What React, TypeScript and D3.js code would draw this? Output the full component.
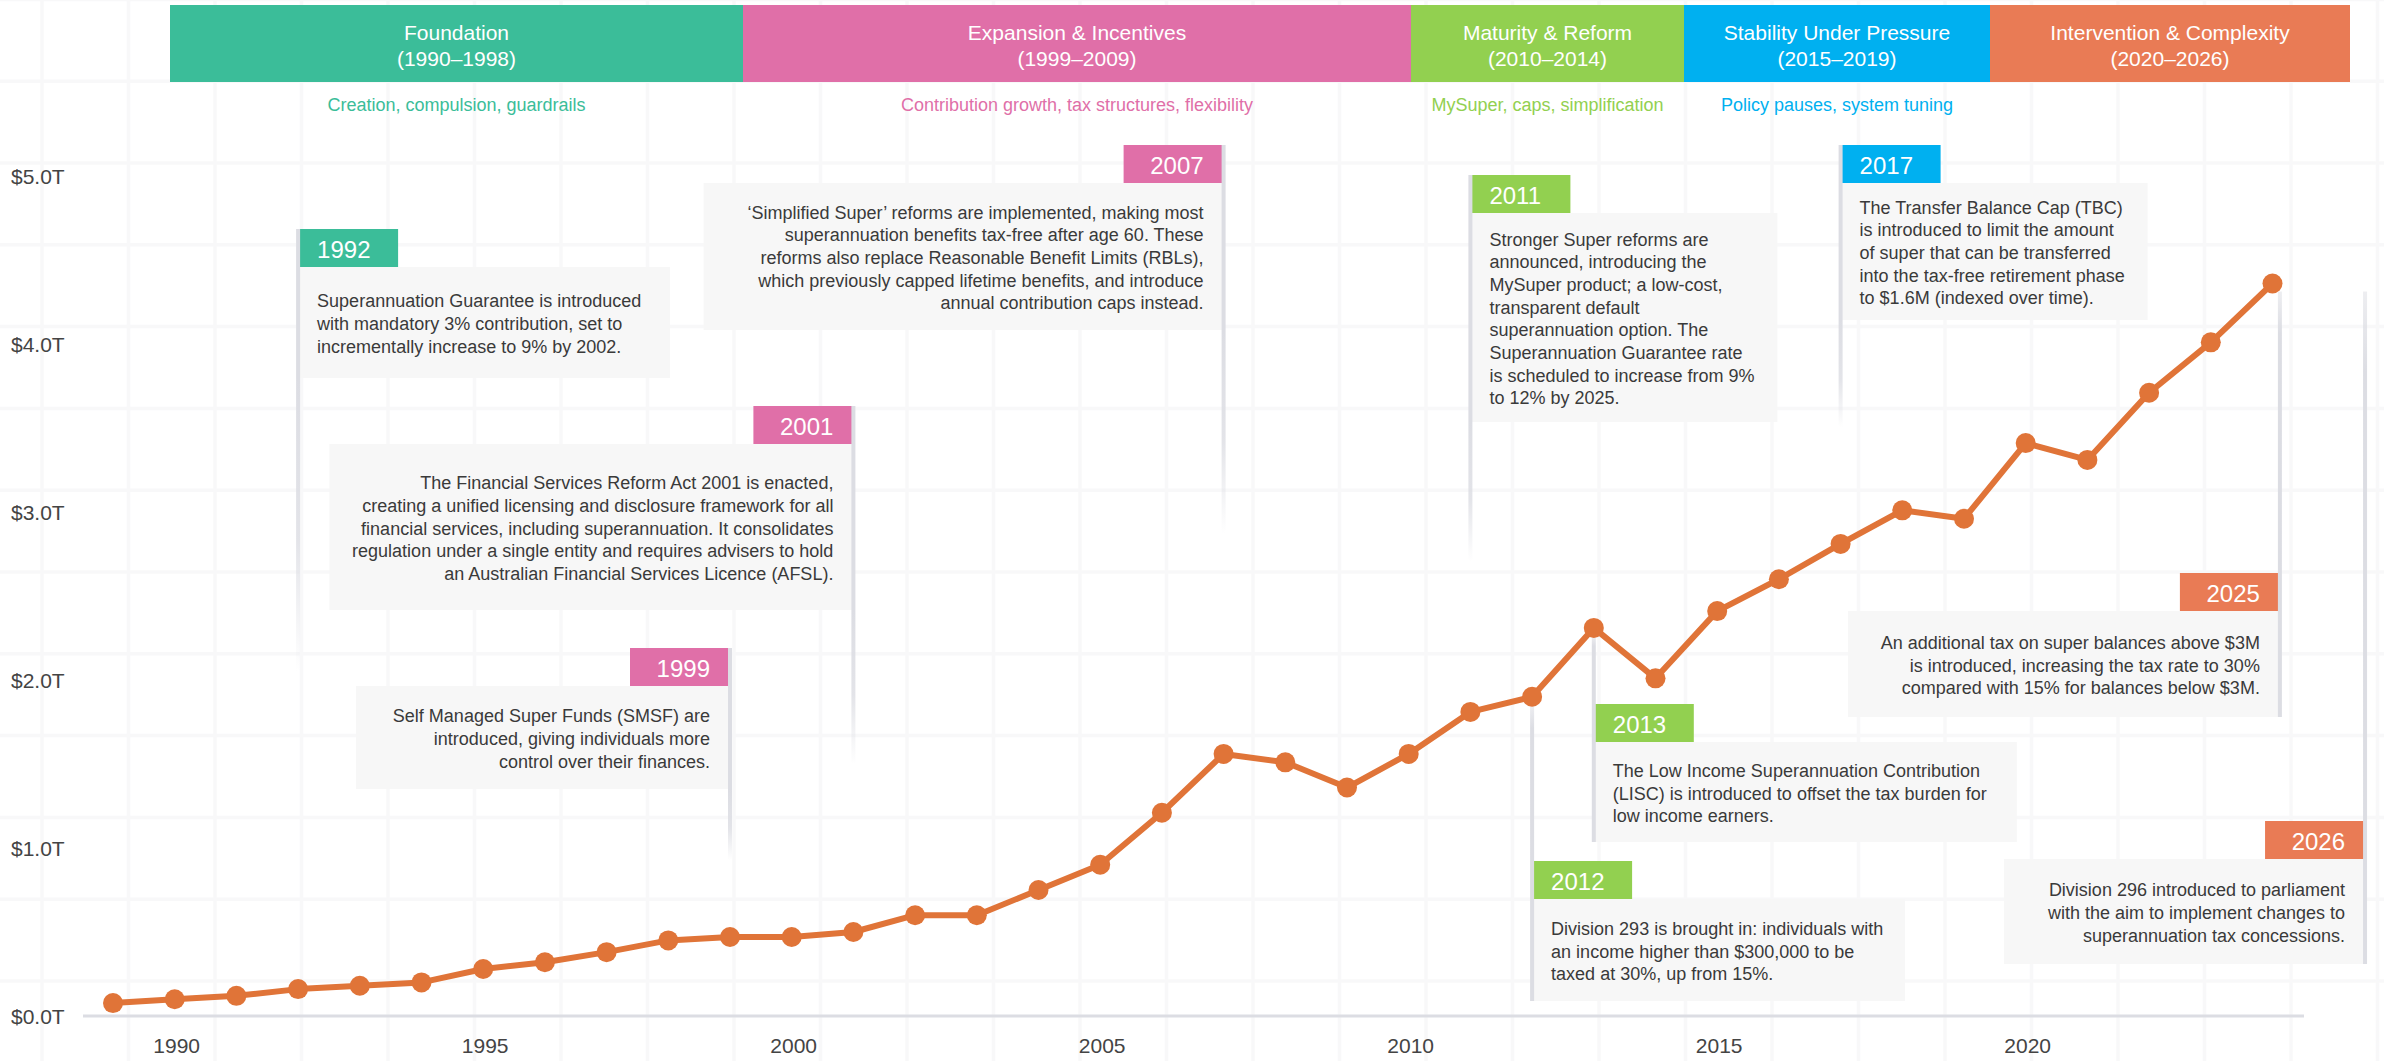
import React from 'react';
import * as d3 from 'd3';

// superannuation assets, $ trillions
const YEARS = [
  1989, 1990, 1991, 1992, 1993, 1994, 1995, 1996, 1997, 1998, 1999, 2000,
  2001, 2002, 2003, 2004, 2005, 2006, 2007, 2008, 2009, 2010, 2011, 2012,
  2013, 2014, 2015, 2016, 2017, 2018, 2019, 2020, 2021, 2022, 2023, 2024,
];
const ASSETS = [
  0.077, 0.1, 0.12, 0.16, 0.18, 0.2, 0.28, 0.32, 0.38, 0.45, 0.47, 0.47,
  0.5, 0.6, 0.6, 0.75, 0.9, 1.21, 1.56, 1.51, 1.36, 1.56, 1.81, 1.9,
  2.31, 2.01, 2.41, 2.6, 2.81, 3.01, 2.96, 3.41, 3.31, 3.71, 4.01, 4.36,
];
const Y_TICKS = [0, 1, 2, 3, 4, 5];
const X_TICKS = [1990, 1995, 2000, 2005, 2010, 2015, 2020];

const PHASE_NAMES = [
  'Foundation',
  'Expansion & Incentives',
  'Maturity & Reform',
  'Stability Under Pressure',
  'Intervention & Complexity',
];
const PHASE_SPANS = ['1990–1998', '1999–2009', '2010–2014', '2015–2019', '2020–2026'];
const PHASE_THEMES = [
  'Creation, compulsion, guardrails',
  'Contribution growth, tax structures, flexibility',
  'MySuper, caps, simplification',
  'Policy pauses, system tuning',
  '',
];
const PHASE_STARTS = [1990, 1999, 2010, 2015, 2020, 2027];

const EVENT_YEARS = [1992, 1999, 2001, 2007, 2011, 2012, 2013, 2017, 2025, 2026];
const EVENT_PHASE = [0, 1, 1, 1, 2, 2, 2, 3, 4, 4];
const EVENT_TEXT = [
  ['Superannuation Guarantee is introduced', 'with mandatory 3% contribution, set to', 'incrementally increase to 9% by 2002.'],
  ['Self Managed Super Funds (SMSF) are', 'introduced, giving individuals more', 'control over their finances.'],
  [
    'The Financial Services Reform Act 2001 is enacted,',
    'creating a unified licensing and disclosure framework for all',
    'financial services, including superannuation. It consolidates',
    'regulation under a single entity and requires advisers to hold',
    'an Australian Financial Services Licence (AFSL).',
  ],
  [
    '‘Simplified Super’ reforms are implemented, making most',
    'superannuation benefits tax-free after age 60. These',
    'reforms also replace Reasonable Benefit Limits (RBLs),',
    'which previously capped lifetime benefits, and introduce',
    'annual contribution caps instead.',
  ],
  [
    'Stronger Super reforms are',
    'announced, introducing the',
    'MySuper product; a low-cost,',
    'transparent default',
    'superannuation option. The',
    'Superannuation Guarantee rate',
    'is scheduled to increase from 9%',
    'to 12% by 2025.',
  ],
  ['Division 293 is brought in: individuals with', 'an income higher than $300,000 to be', 'taxed at 30%, up from 15%.'],
  ['The Low Income Superannuation Contribution', '(LISC) is introduced to offset the tax burden for', 'low income earners.'],
  [
    'The Transfer Balance Cap (TBC)',
    'is introduced to limit the amount',
    'of super that can be transferred',
    'into the tax-free retirement phase',
    'to $1.6M (indexed over time).',
  ],
  ['An additional tax on super balances above $3M', 'is introduced, increasing the tax rate to 30%', 'compared with 15% for balances below $3M.'],
  ['Division 296 introduced to parliament', 'with the aim to implement changes to', 'superannuation tax concessions.'],
];

// layout of the callouts (same order as EVENT_YEARS)
const CALLOUT = [
  { side: 'left', at: 1992, tagTop: 229, boxW: 372, boxH: 111 },
  { side: 'right', at: 1999, tagTop: 648, boxW: 374, boxH: 103 },
  { side: 'right', at: 2001, tagTop: 406, boxW: 524, boxH: 166 },
  { side: 'right', at: 2007, tagTop: 145, boxW: 520, boxH: 147 },
  { side: 'left', at: 2011, tagTop: 175, boxW: 307, boxH: 209 },
  { side: 'left', at: 2012, tagTop: 861, boxW: 373, boxH: 102 },
  { side: 'left', at: 2013, tagTop: 704, boxW: 423, boxH: 100 },
  { side: 'left', at: 2017, tagTop: 145, boxW: 307, boxH: 137 },
  { side: 'right', at: 2024.12, tagTop: 573, boxW: 432, boxH: 106 },
  { side: 'right', at: 2025.5, tagTop: 821, boxW: 361, boxH: 105 },
];

const PHASE_COLORS = ['#3bbd99', '#e06fa8', '#92d050', '#00b0f0', '#e97b55'];
const LINE_COLOR = '#e07438';
const LEAD_COLOR = '#dcdde3';
const FONT = "'Liberation Sans', Arial, Helvetica, sans-serif";

const W = 2384;
const H = 1061;

export default function App() {
  const x = d3.scaleLinear().domain([1989, 2024]).range([113, 2272.5]);
  const y = d3.scaleLinear().domain([0, 5]).range([1016, 176]);
  // header bands are laid out wider than the data scale
  const xBand = d3.scaleLinear().domain(PHASE_STARTS).range([170, 743, 1411, 1684, 1990, 2350]);

  const points = YEARS.map((yr, i) => ({ yr, v: ASSETS[i] }));
  const line = d3.line<{ yr: number; v: number }>().x((d) => x(d.yr)).y((d) => y(d.v));
  const valueAt = d3.scaleLinear().domain(YEARS).range(ASSETS).clamp(true);

  const gridX = d3.range(42, W, 86.5);
  const gridY = d3.range(-0.6, H, 81.8);

  const TAG_H = 38;
  const LH = 22.7;

  // leader segment outside the callout box
  const leads = EVENT_YEARS.map((yr, i) => {
    const c = CALLOUT[i];
    const yData = y(valueAt(c.at));
    const boxBottom = c.tagTop + TAG_H + c.boxH;
    const above = c.tagTop < yData;
    if (above) {
      return { yr, x: x(c.at), y1: boxBottom, y2: boxBottom + (yData - boxBottom) * 0.48, above };
    }
    return { yr, x: x(c.at), y1: c.tagTop, y2: yData + 8, above };
  });

  return (
    <svg width={W} height={H} style={{ position: 'absolute', left: 0, top: 0, background: '#fff' }} fontFamily={FONT}>
      <defs>
        {leads.map((l) => (
          <linearGradient key={l.yr} id={`lead-${l.yr}`} gradientUnits="userSpaceOnUse" x1={0} x2={0} y1={l.y1} y2={l.y2}>
            <stop offset="0" stopColor={LEAD_COLOR} stopOpacity={1} />
            <stop offset={l.above ? '0.55' : '0.85'} stopColor={LEAD_COLOR} stopOpacity={l.above ? 0.8 : 1} />
            <stop offset="1" stopColor={LEAD_COLOR} stopOpacity={l.above ? 0 : 0.5} />
          </linearGradient>
        ))}
      </defs>

      {/* paper grid */}
      <g stroke="#f8f8f9" strokeWidth={3.5}>
        {gridX.map((gx) => (
          <line key={`gx${gx}`} x1={gx} x2={gx} y1={0} y2={H} />
        ))}
        {gridY.map((gy) => (
          <line key={`gy${gy}`} x1={0} x2={W} y1={gy} y2={gy} />
        ))}
      </g>

      {/* phase header */}
      {PHASE_NAMES.map((name, i) => {
        const x0 = xBand(PHASE_STARTS[i]);
        const x1 = xBand(PHASE_STARTS[i + 1]);
        const cx = (x0 + x1) / 2;
        return (
          <g key={name}>
            <rect x={x0} y={5} width={x1 - x0} height={77} fill={PHASE_COLORS[i]} />
            <text x={cx} y={32} textAnchor="middle" dominantBaseline="central" fill="#fff" fontSize={21}>
              {name}
            </text>
            <text x={cx} y={58} textAnchor="middle" dominantBaseline="central" fill="#fff" fontSize={21}>
              ({PHASE_SPANS[i]})
            </text>
            {PHASE_THEMES[i] && (
              <text x={cx} y={105} textAnchor="middle" dominantBaseline="central" fill={PHASE_COLORS[i]} fontSize={18}>
                {PHASE_THEMES[i]}
              </text>
            )}
          </g>
        );
      })}

      {/* y axis labels */}
      {Y_TICKS.map((t) => (
        <text key={t} x={11} y={y(t)} dominantBaseline="central" fill="#444" fontSize={21}>
          {`$${t.toFixed(1)}T`}
        </text>
      ))}

      {/* x axis */}
      <line x1={83} x2={2304} y1={y(0)} y2={y(0)} stroke={LEAD_COLOR} strokeWidth={3} />
      {X_TICKS.map((t) => (
        <text key={t} x={x(t) + 2} y={1045} textAnchor="middle" dominantBaseline="central" fill="#444" fontSize={21}>
          {t}
        </text>
      ))}

      {/* leader lines */}
      {leads.map((l) => (
        <rect
          key={l.yr}
          x={l.x - 2}
          width={4}
          y={Math.min(l.y1, l.y2)}
          height={Math.abs(l.y2 - l.y1)}
          fill={`url(#lead-${l.yr})`}
        />
      ))}

      {/* series */}
      <path d={line(points) ?? ''} fill="none" stroke={LINE_COLOR} strokeWidth={6} strokeLinejoin="round" />
      {points.map((p) => (
        <circle key={p.yr} cx={x(p.yr)} cy={y(p.v)} r={10} fill={LINE_COLOR} />
      ))}

      {/* callouts */}
      {EVENT_YEARS.map((yr, i) => {
        const c = CALLOUT[i];
        const ax = x(c.at);
        const left = c.side === 'left';
        const color = PHASE_COLORS[EVENT_PHASE[i]];
        const tagW = 100;
        const tagX = left ? ax : ax - tagW;
        const boxX = left ? ax : ax - c.boxW;
        const boxY = c.tagTop + TAG_H;
        const lines = EVENT_TEXT[i];
        const textX = left ? ax + 19 : ax - 20;
        const anchor = left ? 'start' : 'end';
        const y0 = boxY + c.boxH / 2 + 1.5 - ((lines.length - 1) * LH) / 2;
        return (
          <g key={yr}>
            <rect x={boxX} y={boxY} width={c.boxW} height={c.boxH} fill="#f7f7f7" />
            <rect x={tagX} y={c.tagTop} width={tagW} height={TAG_H} fill={color} />
            <rect x={ax - 2} y={c.tagTop} width={4} height={TAG_H + c.boxH} fill={LEAD_COLOR} />
            <text x={textX} y={c.tagTop + TAG_H / 2 + 1} textAnchor={anchor} dominantBaseline="central" fill="#fff" fontSize={24}>
              {yr}
            </text>
            {lines.map((ln, k) => (
              <text key={k} x={textX} y={y0 + k * LH} textAnchor={anchor} dominantBaseline="central" fill="#3a3a3a" fontSize={18}>
                {ln}
              </text>
            ))}
          </g>
        );
      })}
    </svg>
  );
}
